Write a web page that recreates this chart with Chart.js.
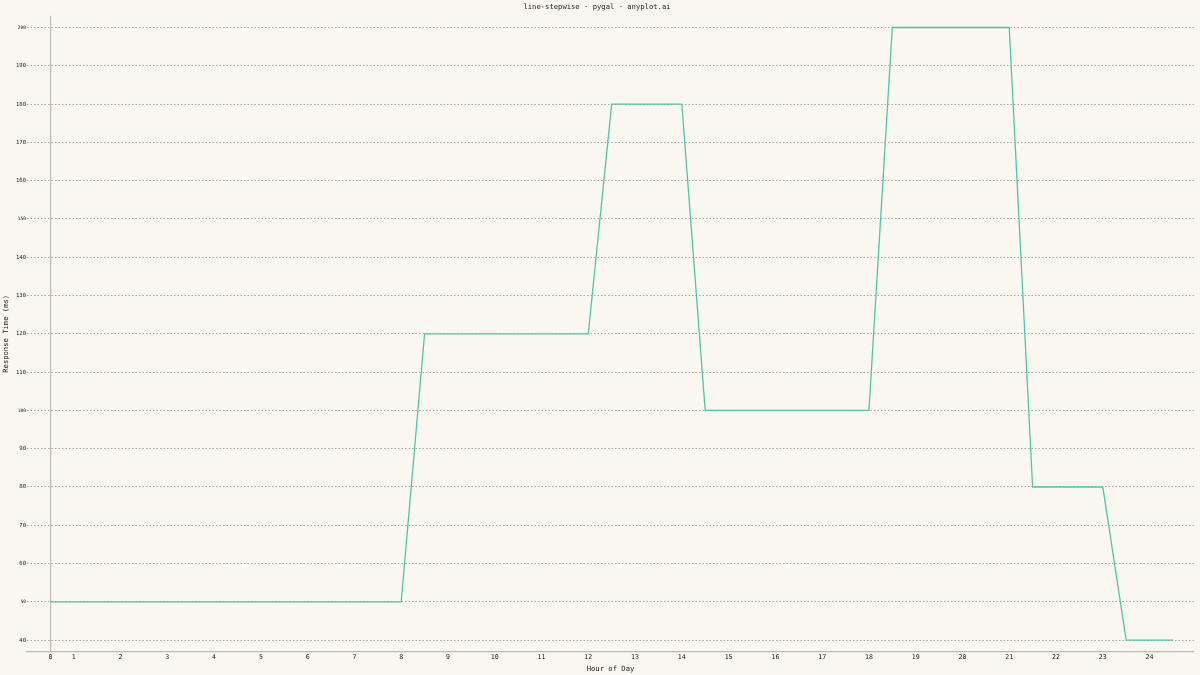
<!DOCTYPE html>
<html>
<head>
<meta charset="utf-8">
<script src="https://cdn.jsdelivr.net/npm/chart.js@4/dist/chart.umd.min.js"></script>
<style>
  html, body { margin: 0; padding: 0; background: #faf7f0; }
  #wrap { width: 1200px; height: 675px; }
</style>
</head>
<body>
<div id="wrap"><canvas id="line-chart"></canvas></div>
<script>
// step points (hour, response time in ms)
var hours = [0.5, 8, 8.5, 12, 12.5, 14, 14.5, 18, 18.5, 21, 21.5, 23, 23.5, 24.5];
var responseMs = [50, 50, 120, 120, 180, 180, 100, 100, 200, 200, 80, 80, 40, 40];

// axis ticks
var xTickPos = [0.5, 1, 2, 3, 4, 5, 6, 7, 8, 9, 10, 11, 12, 13, 14, 15, 16, 17, 18, 19, 20, 21, 22, 23, 24];
var xTickLabels = ["0", "1", "2", "3", "4", "5", "6", "7", "8", "9", "10", "11", "12", "13", "14", "15", "16", "17", "18", "19", "20", "21", "22", "23", "24"];
var yTicks = [40, 50, 60, 70, 80, 90, 100, 110, 120, 130, 140, 150, 160, 170, 180, 190, 200];
var yMajor = [50, 100, 150, 200];

var mono = "'DejaVu Sans Mono', monospace";

new Chart(document.getElementById("line-chart"), {
  type: 'line',
  data: {
    datasets: [{
      label: "Response Time",
      data: hours.map(function(h, i) { return { x: h, y: responseMs[i] }; }),
      borderColor: "#52c4a2",
      borderWidth: 1.3,
      pointRadius: 0,
      tension: 0,
      fill: false
    }]
  },
  options: {
    responsive: true,
    maintainAspectRatio: false,
    animation: false,
    layout: { padding: { left: 0, right: 6, top: 0, bottom: 0 } },
    plugins: {
      legend: { display: false },
      tooltip: { enabled: false },
      title: {
        display: true,
        text: 'line-stepwise · pygal · anyplot.ai',
        color: '#222',
        font: { family: mono, size: 7.2, weight: 'normal' },
        padding: { top: 3, bottom: 4 }
      }
    },
    scales: {
      x: {
        type: 'linear',
        min: 0,
        max: 24.95,
        afterBuildTicks: function(axis) {
          axis.ticks = xTickPos.map(function(v) { return { value: v }; });
        },
        afterFit: function(axis) { axis.height = 23; },
        ticks: {
          autoSkip: false,
          maxRotation: 0,
          padding: 1,
          color: '#222',
          font: { family: mono, size: 6.6 },
          callback: function(v, i) { return xTickLabels[i]; }
        },
        grid: {
          drawTicks: false,
          color: function(ctx) { return ctx.tick && ctx.tick.value === 0.5 ? '#bdbab3' : 'rgba(0,0,0,0)'; },
          lineWidth: 1.2
        },
        border: { display: true, color: '#bdbab3', width: 1.2 },
        title: {
          display: true,
          text: 'Hour of Day',
          color: '#222',
          font: { family: mono, size: 7.2 },
          padding: { top: 0, bottom: 2 }
        }
      },
      y: {
        min: 36.9,
        max: 203.1,
        afterBuildTicks: function(axis) {
          axis.ticks = yTicks.map(function(v) { return { value: v }; });
        },
        afterFit: function(axis) { axis.width = 27; },
        ticks: {
          padding: 1,
          color: '#222',
          font: function(ctx) {
            var major = ctx.tick && yMajor.indexOf(ctx.tick.value) >= 0;
            return { family: mono, size: major ? 4.6 : 5.6 };
          },
          callback: function(v) { return String(v); }
        },
        grid: {
          drawTicks: false,
          color: 'rgba(0,0,0,0.4)',
          lineWidth: 0.8,
          borderDash: [1.5, 2]
        },
        border: { display: false, dash: [1.5, 2] },
        title: {
          display: true,
          text: 'Response Time (ms)',
          color: '#222',
          font: { family: mono, size: 7.2 },
          padding: { top: 2, bottom: 0 }
        }
      }
    }
  },
  plugins: [{
    id: 'bg',
    beforeDraw: function(chart) {
      var c = chart.ctx;
      c.save();
      c.fillStyle = '#faf7f0';
      c.fillRect(0, 0, chart.width, chart.height);
      c.restore();
    }
  }]
});
</script>
</body>
</html>
